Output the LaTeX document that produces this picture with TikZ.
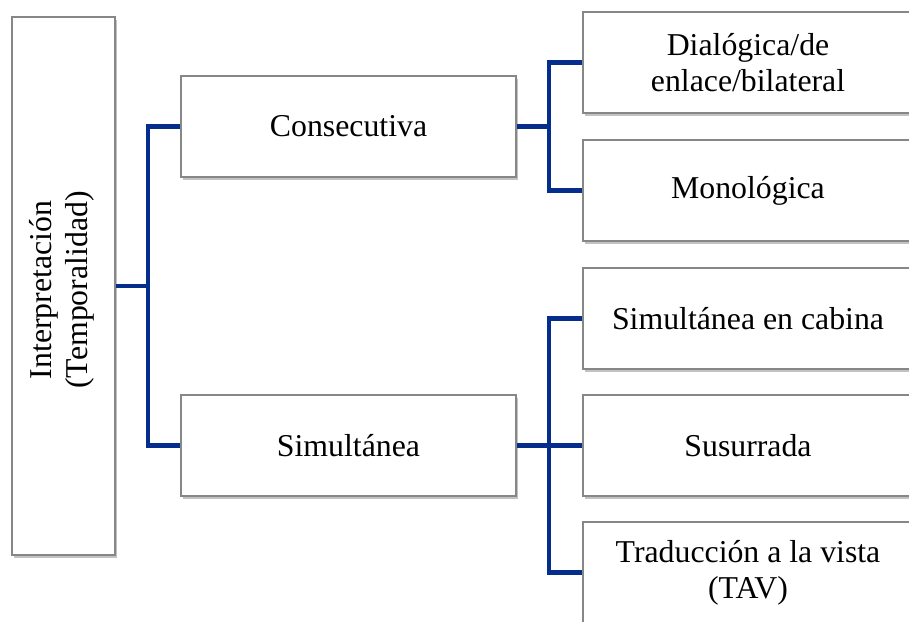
\documentclass[tikz,border=0pt]{standalone}
\usepackage{fontspec}
\setmainfont{Liberation Serif}
\usetikzlibrary{shadows}
\definecolor{conn}{RGB}{5,45,140}
\definecolor{edge}{RGB}{135,135,135}
\begin{document}
\begin{tikzpicture}[x=1pt,y=-1pt,
  box/.style={draw=edge, line width=1.5pt, fill=white, inner sep=0pt, align=center,
    font=\fontsize{31.8}{36}\selectfont,
    drop shadow={shadow xshift=2pt, shadow yshift=-3pt, opacity=0.4, fill=black!60}},
  conline/.style={draw=conn, line width=4.8pt}]
\useasboundingbox (0,0) rectangle (909,621);
\node[box, minimum width=103pt, minimum height=538pt] (root) at (63.5,286) {};
\node[rotate=90, align=center, font=\fontsize{31.8}{36}\selectfont] (roottxt) at (62,290) {Interpretación\\(Temporalidad)};
\node[box, minimum width=335pt, minimum height=101pt] (cons) at (348.5,126.5) {Consecutiva};
\node[box, minimum width=335pt, minimum height=101pt] (simu) at (348.5,445.5) {Simultánea};
\node[box, minimum width=330pt, minimum height=101pt] (dial) at (748,62.5) {Dialógica/de\\enlace/bilateral};
\node[box, minimum width=330pt, minimum height=101pt] (mono) at (748,190.5) {Monológica};
\node[box, minimum width=330pt, minimum height=101pt] (cab) at (748,318.5) {Simultánea en cabina};
\node[box, minimum width=330pt, minimum height=101pt] (susu) at (748,445.5) {Susurrada};
\node[box, minimum width=330pt, minimum height=101pt] (trad) at (748,572.5) {Traducción a la vista\\(TAV)};
\coordinate (j1) at (148,286);
\coordinate (j2) at (549,126.5);
\coordinate (j3) at (549,445.5);
\draw[conline] (root.east) -- (j1);
\draw[conline] (cons.west) -| (j1) |- (simu.west);
\draw[conline] (cons.east) -- (j2);
\draw[conline] (dial.west) -| (j2) |- (mono.west);
\draw[conline] (simu.east) -- (susu.west);
\draw[conline] (cab.west) -| (j3) |- (trad.west);
\end{tikzpicture}
\end{document}
